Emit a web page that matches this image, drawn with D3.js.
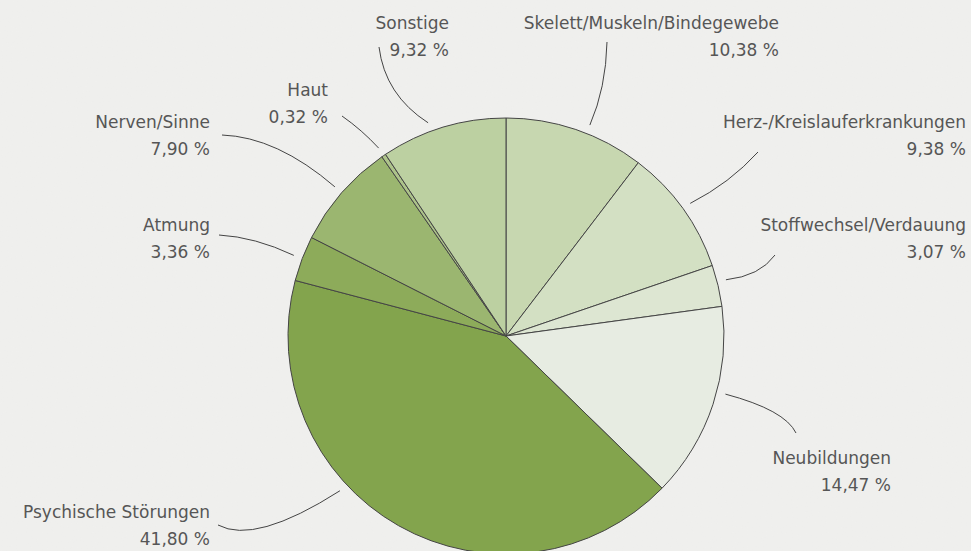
<!DOCTYPE html>
<html>
<head>
<meta charset="utf-8">
<script src="https://cdn.jsdelivr.net/npm/d3@7"></script>
<style>
  html, body { margin: 0; padding: 0; background: #f0f0ee; }
  svg { display: block; }
  .lbl { font-family: "DejaVu Sans", sans-serif; font-size: 17px; fill: #565656; }
</style>
</head>
<body>
<div class="chart"></div>
<script>
// categories, clockwise from 12 o'clock
const categories = [
  'Skelett/Muskeln/Bindegewebe',
  'Herz-/Kreislauferkrankungen',
  'Stoffwechsel/Verdauung',
  'Neubildungen',
  'Psychische Störungen',
  'Atmung',
  'Nerven/Sinne',
  'Haut',
  'Sonstige'
]
const shares = [10.38, 9.38, 3.07, 14.47, 41.80, 3.36, 7.90, 0.32, 9.32]
const colors = ['#c7d7b0', '#d3e0c3', '#dde6d2', '#e7ece2', '#83a44d',
                '#8dab5a', '#9bb670', '#adc38a', '#bcd0a1']

// label layout: right edge + baseline of the name, and the curve control point
const labelPos = [
  {x: 779, y: 29,  lx: 607, ly: 42,  cx: 606, cy: 88,  nudge: 3},
  {x: 966, y: 128, lx: 758, ly: 152, cx: 730, cy: 183, nudge: 0},
  {x: 966, y: 231, lx: 775, ly: 255, cx: 760, cy: 276, nudge: -1},
  {x: 891, y: 464, lx: 796, ly: 433, cx: 785, cy: 410, nudge: -3.4},
  {x: 210, y: 518, lx: 218, ly: 525, cx: 255, cy: 545, nudge: 17.5},
  {x: 210, y: 231, lx: 219, ly: 235, cx: 255, cy: 237, nudge: 0},
  {x: 210, y: 128, lx: 222, ly: 135, cx: 277, cy: 137, nudge: 0},
  {x: 328, y: 96,  lx: 342, ly: 116, cx: 362, cy: 130, nudge: 0},
  {x: 449, y: 29,  lx: 379, ly: 47,  cx: 385, cy: 95,  nudge: -3.3}
]

const W = 971, H = 551
const cx = 506, cy = 336, radius = 218

const fmt = v => d3.format('.2f')(v).replace('.', ',') + ' %'

const svg = d3.select('.chart')
  .append('svg')
    .attr('width', W)
    .attr('height', H)

// paper texture
const defs = svg.append('defs')
const paper = defs.append('filter').attr('id', 'paper')
  .attr('x', 0).attr('y', 0).attr('width', '100%').attr('height', '100%')
paper.append('feTurbulence')
  .attr('type', 'fractalNoise').attr('baseFrequency', 0.8).attr('numOctaves', 2).attr('seed', 3)
paper.append('feColorMatrix')
  .attr('values', '0 0 0 0 0.5  0 0 0 0 0.5  0 0 0 0 0.5  0 0 0 0.04 0')
svg.append('rect').attr('width', W).attr('height', H).attr('fill', '#f0f0ee')
svg.append('rect').attr('width', W).attr('height', H).attr('filter', 'url(#paper)')

const pie = d3.pie().sort(null).value(d => d)
const arcs = pie(shares)
const arc = d3.arc().innerRadius(0).outerRadius(radius)

const g = svg.append('g').attr('transform', `translate(${cx},${cy})`)

g.selectAll('path.slice')
  .data(arcs)
  .join('path')
    .attr('class', 'slice')
    .attr('d', arc)
    .attr('fill', (d, i) => colors[i])
    .attr('stroke', '#454545')
    .attr('stroke-width', 1)
    .attr('stroke-linejoin', 'round')

// connectors: from just outside the slice to the label
const edge = radius + 9
svg.selectAll('path.link')
  .data(arcs)
  .join('path')
    .attr('class', 'link')
    .attr('fill', 'none')
    .attr('stroke', '#444')
    .attr('stroke-width', 1)
    .attr('d', (d, i) => {
      const p = labelPos[i]
      const a = (d.startAngle + d.endAngle) / 2 + p.nudge * Math.PI / 180
      const x = cx + edge * Math.sin(a)
      const y = cy - edge * Math.cos(a)
      return `M${p.lx},${p.ly}Q${p.cx},${p.cy} ${x},${y}`
    })

const labels = svg.selectAll('g.label')
  .data(arcs)
  .join('g')
    .attr('class', 'label')
    .attr('transform', (d, i) => `translate(${labelPos[i].x},${labelPos[i].y})`)

labels.append('text')
  .attr('class', 'lbl')
  .attr('text-anchor', 'end')
  .text((d, i) => categories[i])

labels.append('text')
  .attr('class', 'lbl')
  .attr('text-anchor', 'end')
  .attr('y', 27)
  .text(d => fmt(d.data))
</script>
</body>
</html>
